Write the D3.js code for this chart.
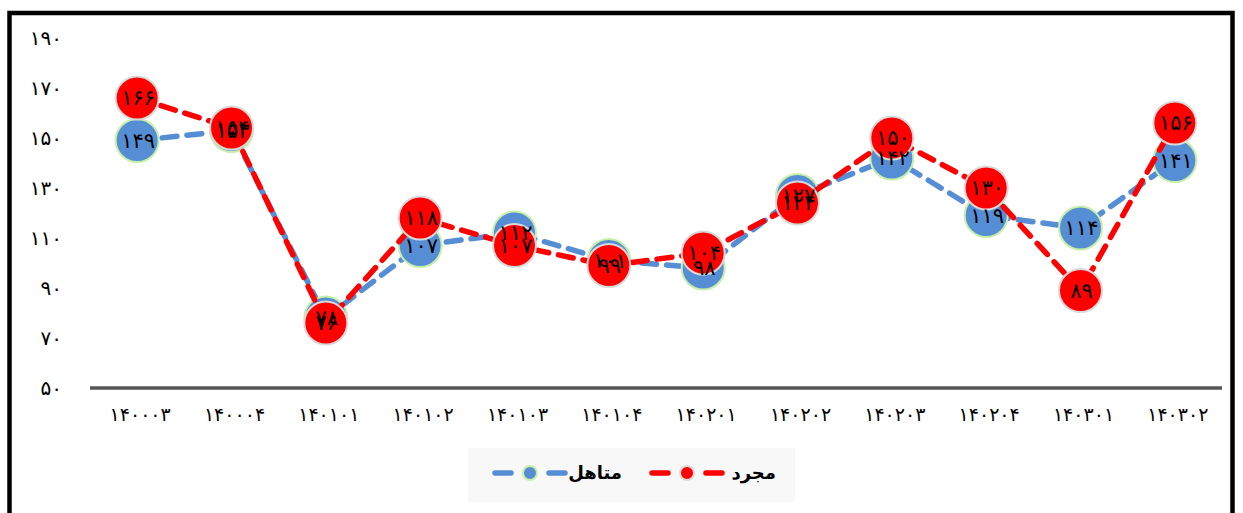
<!DOCTYPE html>
<html lang="fa">
<head>
<meta charset="utf-8">
<script src="https://cdn.jsdelivr.net/npm/d3@7"></script>
<style>
  html, body { margin: 0; padding: 0; background: #fff; }
  svg { display: block; }
</style>
</head>
<body>
<svg id="chart" width="1243" height="513"></svg>
<script>
// Periods (year + season), shown with Persian digits
const periods = ["140003", "140004", "140101", "140102", "140103", "140104",
                 "140201", "140202", "140203", "140204", "140301", "140302"];
// Married series
const married = [149, 153, 78, 107, 112, 101, 98, 127, 142, 119, 114, 141];
// Single series
const single = [166, 154, 76, 118, 107, 99, 104, 124, 150, 130, 89, 156];
// Y axis ticks
const yTicks = [50, 70, 90, 110, 130, 150, 170, 190];

const seriesNames = { married: "متاهل", single: "مجرد" };

const faDigits = "۰۱۲۳۴۵۶۷۸۹";
const toFa = v => String(v).replace(/\d/g, d => faDigits[+d]);

const svg = d3.select("#chart");

// outer frame
svg.append("rect")
  .attr("x", 9.5).attr("y", 13).attr("width", 1223).attr("height", 530)
  .attr("fill", "none").attr("stroke", "#000").attr("stroke-width", 4.5);

const x = d3.scalePoint().domain(periods).range([90, 1222]).padding(0.5);
const y = d3.scaleLinear().domain([50, 190]).range([388, 38]);

const fontFa = "'DejaVu Sans', sans-serif";

// y tick labels
svg.append("g").selectAll("text").data(yTicks).join("text")
  .attr("x", 62).attr("y", d => y(d))
  .attr("dy", "0.35em")
  .attr("text-anchor", "end")
  .attr("font-family", fontFa)
  .attr("font-size", 20)
  .attr("letter-spacing", 3)
  .attr("fill", "#000")
  .text(d => toFa(d));

// x axis baseline
svg.append("line")
  .attr("x1", 90).attr("x2", 1222)
  .attr("y1", y(50)).attr("y2", y(50))
  .attr("stroke", "#555").attr("stroke-width", 3.5);

// x tick labels
svg.append("g").selectAll("text").data(periods).join("text")
  .attr("x", d => x(d) + 3).attr("y", 414)
  .attr("dy", "0.35em")
  .attr("text-anchor", "middle")
  .attr("font-family", fontFa)
  .attr("font-size", 19)
  .attr("letter-spacing", 6)
  .attr("fill", "#000")
  .text(d => toFa(d));

const blue = "#558ed5", red = "#ff0000";
const styles = [
  { key: "married", values: married, color: blue, ring: "#c6efa8" },
  { key: "single", values: single, color: red, ring: "#d9d9d9" }
];

const line = d3.line().x((d, i) => x(periods[i])).y(d => y(d));

styles.forEach(s => {
  const g = svg.append("g");
  g.append("path")
    .datum(s.values)
    .attr("d", line)
    .attr("fill", "none")
    .attr("stroke", s.color)
    .attr("stroke-width", 5.5)
    .attr("stroke-linecap", "round")
    .attr("stroke-dasharray", "15 10");
  g.selectAll("circle").data(s.values).join("circle")
    .attr("cx", (d, i) => x(periods[i]))
    .attr("cy", d => y(d))
    .attr("r", 21.5)
    .attr("fill", s.color)
    .attr("stroke", s.ring)
    .attr("stroke-width", 2);
});

// value labels above every marker
styles.forEach(s => {
  svg.append("g").selectAll("text").data(s.values).join("text")
    .attr("x", (d, i) => x(periods[i]) + 1)
    .attr("y", d => y(d))
    .attr("dy", "0.35em")
    .attr("text-anchor", "middle")
    .attr("font-family", fontFa)
    .attr("font-size", 21)
    .attr("letter-spacing", 1)
    .attr("fill", "#000")
    .text(d => toFa(d));
});

// legend
const lg = svg.append("g");
lg.append("rect")
  .attr("x", 468).attr("y", 448).attr("width", 327).attr("height", 54)
  .attr("fill", "#f8f8f8");

const legendItems = [
  { s: styles[1], textRight: 776, lineX1: 652, lineX2: 722 },
  { s: styles[0], textRight: 622, lineX1: 495, lineX2: 565 }
];
const ly = 473;
legendItems.forEach(it => {
  const g = lg.append("g");
  g.append("line")
    .attr("x1", it.lineX1).attr("x2", it.lineX2)
    .attr("y1", ly).attr("y2", ly)
    .attr("stroke", it.s.color)
    .attr("stroke-width", 5.5)
    .attr("stroke-linecap", "round")
    .attr("stroke-dasharray", "16 38");
  g.append("circle")
    .attr("cx", (it.lineX1 + it.lineX2) / 2).attr("cy", ly)
    .attr("r", 7)
    .attr("fill", it.s.color)
    .attr("stroke", it.s.ring)
    .attr("stroke-width", 2);
  g.append("text")
    .attr("x", it.textRight).attr("y", ly)
    .attr("dy", "0.35em")
    .attr("text-anchor", "end")
    .attr("font-family", fontFa)
    .attr("font-size", 18)
    .attr("font-weight", "bold")
    .attr("fill", "#000")
    .text(seriesNames[it.s.key]);
});
</script>
</body>
</html>
